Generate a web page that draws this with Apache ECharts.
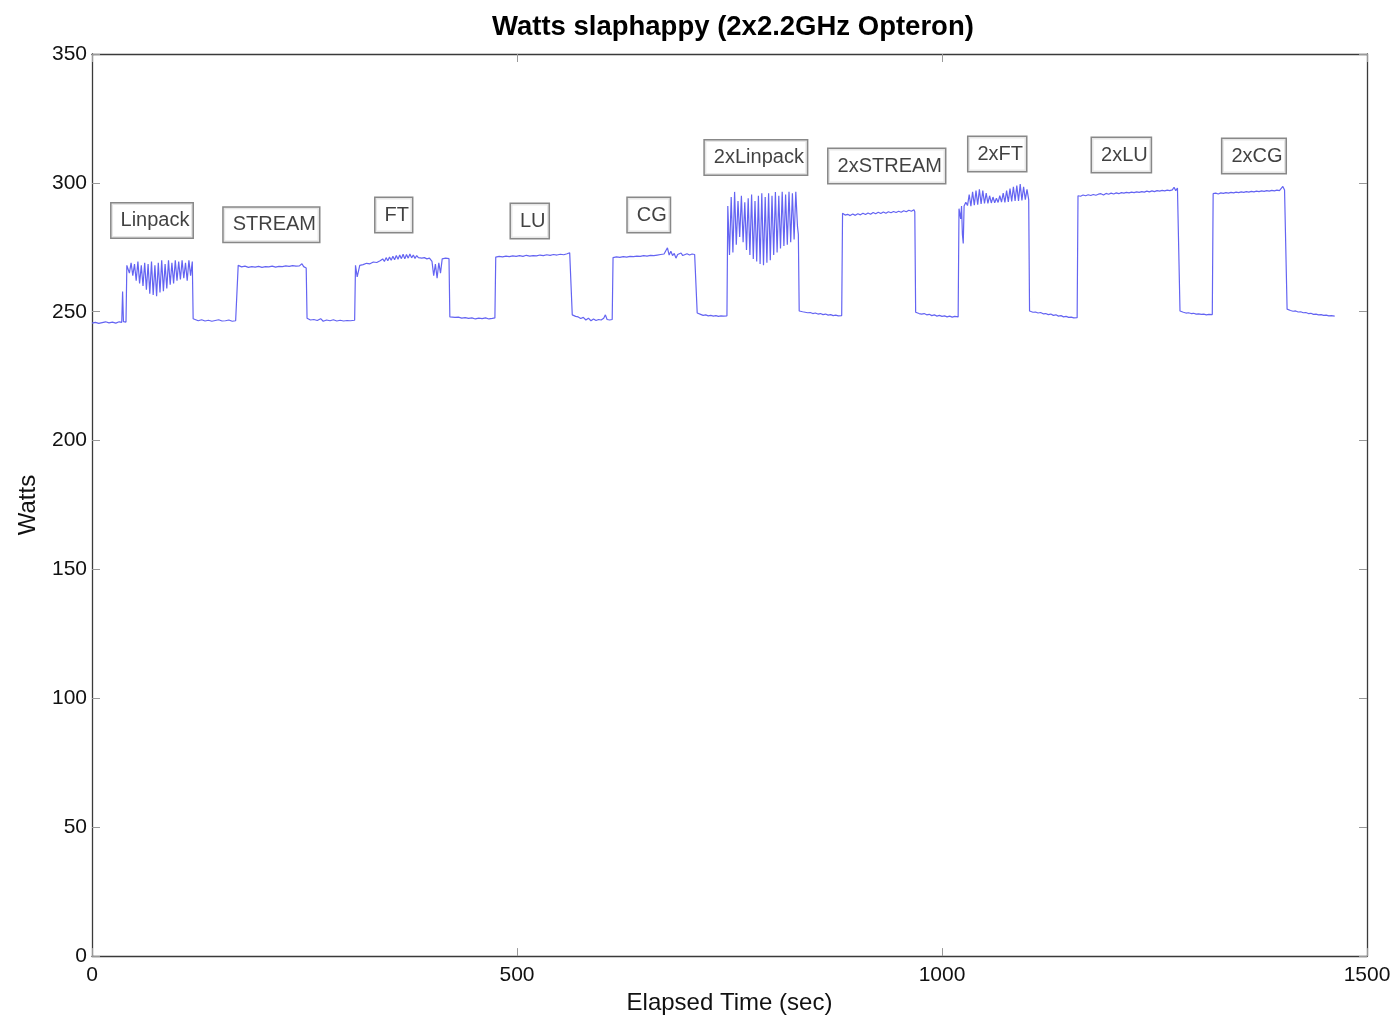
<!DOCTYPE html>
<html>
<head>
<meta charset="utf-8">
<script src="https://cdn.jsdelivr.net/npm/echarts@6/dist/echarts.min.js"></script>
<style>
html,body{margin:0;padding:0;background:#fff;}
#chart{width:1395px;height:1020px;}
</style>
</head>
<body>
<div id="chart"></div>
<script>
// ---- Data: [elapsed time (sec), watts] per phase ----
const idle0 = [[0,245.6],[4,245.9],[8,245.5],[12,245.8],[16,246.1],[20,245.7],[24,246],[28,245.6],[32,246.1],[35,245.9],[36,257.8],[37,246.2],[40,246]];
const linpack = [[41,268],[42,268],[44,265],[46,269],[48,264],[50,268.5],[52,262],[54,269.5],[56,261],[58,268],[60,260],[62,269],[64,258.5],[66,268.5],[68,257],[70,269.5],[72,256.5],[74,268],[76,256],[78,269],[80,257.5],[82,270],[84,258],[86,268.5],[88,259],[90,270],[92,260.5],[94,269],[96,261],[98,270],[100,262],[102,269.5],[104,262.5],[106,270],[108,263],[110,269],[112,262],[114,270],[116,264],[118,269.5]];
const idle1 = [[119,247.3],[121,246.8],[125,246.5],[129,246.9],[133,246.4],[137,246.7],[141,246.3],[145,246.6],[149,246.9],[153,246.4],[157,246.5],[161,246.8],[165,246.3],[169,246.5],[171,246.4]];
const stream = [[172,268],[176,267.4],[180,267.7],[184,267.2],[188,267.5],[192,267.3],[196,267.6],[200,267.2],[204,267.5],[208,267.4],[212,267.7],[216,267.3],[220,267.6],[224,267.5],[228,267.8],[232,267.6],[236,267.9],[240,267.7],[244,267.8],[247,268.6],[249,267.5],[251,268.2],[252,267]];
const idle2 = [[253,247.5],[257,246.8],[261,247],[265,246.6],[269,247.3],[272,246.3],[276,246.8],[280,246.5],[284,246.9],[288,246.4],[292,246.7],[296,246.4],[300,246.6],[304,246.5],[309,246.7]];
const ft = [[310,268],[312,263.5],[315,268],[319,268.3],[323,268.8],[327,268.6],[331,269.3],[335,269.1],[339,269.8],[342,270.5],[344,269.5],[346,271],[348,269.8],[350,271.2],[352,270],[354,271.5],[356,270.2],[358,271.8],[360,270.4],[362,272],[364,270.6],[366,272.3],[368,270.5],[370,272.2],[372,270.8],[374,272.4],[376,270.9],[378,272],[380,270.7],[382,271.8],[384,271],[386,271.5],[388,270.8],[391,271],[394,270.5],[397,270.8],[400,269.5],[402,264],[404,268.5],[406,263],[408,269],[410,265],[412,270.5],[414,269.8],[416,270.8],[418,270.2],[420,270.6]];
const idle3 = [[421,248],[423,248],[427,247.8],[431,247.9],[435,247.5],[439,247.7],[443,247.4],[447,247.6],[451,247.2],[455,247.5],[459,247.3],[463,247.6],[467,247.2],[471,247.4],[474,247.6]];
const lu = [[475,271.2],[479,271.5],[483,271.3],[487,271.6],[491,271.4],[495,271.7],[499,271.5],[503,271.8],[507,271.5],[511,271.9],[515,271.6],[519,271.8],[523,271.7],[527,272],[531,271.8],[535,272.1],[539,271.9],[543,272.2],[547,272],[551,272.3],[555,272.1],[559,272.5],[562,272.9],[564,272.2]];
const idle4 = [[565,248.8],[569,248.2],[572,248],[575,247.4],[578,247.8],[581,246.8],[584,247.5],[587,246.5],[590,247.2],[593,246.6],[596,247],[599,246.8],[602,247.5],[604,248.8],[606,247],[609,246.8],[612,247]];
const cg = [[613,271],[617,271.3],[621,271.1],[625,271.4],[629,271.2],[633,271.5],[637,271.4],[641,271.6],[645,271.5],[649,271.8],[653,271.6],[657,271.9],[661,271.8],[665,272],[669,272.2],[673,272.4],[675,273],[677,274.8],[679,272],[681,273.5],[683,271.8],[685,272.6],[687,270.8],[689,272.2],[691,271.5],[693,272.8],[695,271.8],[697,272.3],[700,272.5],[703,272],[706,272.4],[709,272.2],[711,272.1]];
const idle5 = [[712,249.5],[716,249],[719,248.6],[722,248.8],[725,248.4],[728,248.6],[731,248.3],[734,248.5],[737,248.2],[740,248.4],[743,248.3],[747,248.4]];
const linpack2 = [[748,291],[750,272],[752,294.5],[754,273],[756,296.5],[758,276],[760,293],[762,279],[764,295],[766,277],[768,292.5],[770,274],[772,294],[774,272],[776,295.5],[778,270.5],[780,293],[782,269.5],[784,295],[786,268.5],[788,296],[790,268],[792,294.5],[794,269],[796,296],[798,270],[800,295],[802,272],[804,296.5],[806,273],[808,295],[810,274.5],[812,296.5],[814,275.5],[816,295.5],[818,276],[820,296.5],[822,277],[824,296],[826,278],[828,296.5],[830,283],[831,280]];
const idle6 = [[832,250.3],[836,250],[839,249.8],[842,249.6],[845,249.7],[848,249.3],[851,249.5],[854,249.1],[857,249.3],[860,248.9],[863,249.1],[866,248.7],[869,248.9],[872,248.5],[875,248.7],[878,248.4],[882,248.5]];
const stream2 = [[883,288.2],[886,287.5],[889,287.8],[892,287.3],[895,287.9],[898,287.4],[901,288],[904,287.6],[907,288.2],[910,287.7],[913,288.3],[916,287.8],[919,288.5],[922,288],[925,288.6],[928,288.1],[931,288.7],[934,288.2],[937,288.8],[940,288.4],[943,288.9],[946,288.5],[949,289],[952,288.6],[955,289.2],[958,288.8],[961,289.4],[964,289],[967,289.6],[968,288.8]];
const idle7 = [[969,249.8],[973,249.3],[976,249.1],[979,249.3],[982,248.8],[985,249],[988,248.5],[991,248.8],[994,248.3],[997,248.6],[1000,248.2],[1003,248.4],[1006,248],[1009,248.3],[1012,247.9],[1015,248.2],[1019,248]];
const ft2 = [[1020,290],[1022,286],[1023,291],[1024,280],[1025,276.5],[1026,291],[1028,292.5],[1030,291.2],[1032,295.5],[1034,291],[1036,296.5],[1038,291.3],[1040,297],[1042,291.5],[1044,297.5],[1046,291.8],[1048,297],[1050,292],[1052,296],[1054,292],[1056,295],[1058,292.2],[1060,294.5],[1062,292.3],[1064,294],[1066,292.4],[1068,295],[1070,292.5],[1072,296],[1074,292.4],[1076,297],[1078,292.6],[1080,297.8],[1082,292.8],[1084,298.5],[1086,293],[1088,299],[1090,293],[1092,299.5],[1094,293.2],[1096,298.5],[1098,293.5],[1100,297.5],[1102,293.5]];
const idle8 = [[1103,250.3],[1107,249.8],[1110,249.9],[1113,249.5],[1116,249.7],[1119,249.2],[1122,249.3],[1125,248.9],[1128,249.1],[1131,248.6],[1134,248.8],[1137,248.3],[1140,248.5],[1143,248],[1146,248.2],[1149,247.8],[1152,247.9],[1155,247.6],[1159,247.7]];
const lu2 = [[1160,295],[1163,294.8],[1166,295.3],[1169,295],[1172,295.4],[1175,295.1],[1178,295.5],[1181,295.2],[1184,295.6],[1187,295.8],[1190,295.3],[1193,295.9],[1196,295.6],[1199,296],[1202,295.7],[1205,296.1],[1208,295.8],[1211,296.2],[1214,296],[1217,296.3],[1220,296.1],[1223,296.4],[1226,296.2],[1229,296.5],[1232,296.3],[1235,296.6],[1238,296.4],[1241,296.8],[1244,296.5],[1247,296.9],[1250,296.6],[1253,297],[1256,296.8],[1259,297.1],[1262,296.9],[1265,297.2],[1268,297],[1271,297.3],[1273,298.3],[1275,297],[1277,298],[1279,297.3]];
const idle9 = [[1280,250.3],[1284,249.8],[1287,249.5],[1290,249.6],[1293,249.3],[1296,249.4],[1299,249.1],[1302,249.2],[1305,249],[1308,249.1],[1311,248.8],[1314,249],[1318,248.9]];
const cg2 = [[1319,295.8],[1322,296],[1325,295.7],[1328,296.1],[1331,295.9],[1334,296.2],[1337,296],[1340,296.3],[1343,296.1],[1346,296.4],[1349,296.2],[1352,296.5],[1355,296.3],[1358,296.6],[1361,296.4],[1364,296.7],[1367,296.5],[1370,296.8],[1373,296.6],[1376,296.9],[1379,296.7],[1382,297],[1385,296.8],[1388,297.1],[1391,296.9],[1394,297.2],[1397,297],[1399,297.5],[1401,298.6],[1403,297.2],[1405,297.4]];
const idle10 = [[1406,251],[1410,250.5],[1413,250.2],[1416,250.3],[1419,249.9],[1422,250],[1425,249.6],[1428,249.7],[1431,249.3],[1434,249.4],[1437,249],[1440,249.1],[1443,248.8],[1446,248.9],[1449,248.6],[1452,248.7],[1455,248.4],[1458,248.5],[1462,248.3]];

// Benchmark annotations (text, anchor in data coordinates)
const benchNames = ['Linpack','STREAM','FT','LU','CG','2xLinpack','2xSTREAM','2xFT','2xLU','2xCG'];
const benchLabelX = [70.6, 211, 355, 515, 655, 781, 935, 1065, 1211, 1367];
const benchLabelY = [285.4, 283.8, 287.5, 285.2, 287.5, 309.8, 306.5, 311.2, 310.8, 310.4];

// Axis ticks
const xTicks = [0, 500, 1000, 1500];
const yTicks = [0, 50, 100, 150, 200, 250, 300, 350];

const series = [].concat(idle0, linpack, idle1, stream, idle2, ft, idle3, lu, idle4, cg, idle5,
  linpack2, idle6, stream2, idle7, ft2, idle8, lu2, idle9, cg2, idle10);

const FONT = '"Liberation Sans", Arial, Helvetica, sans-serif';
const chart = echarts.init(document.getElementById('chart'), null, {renderer: 'canvas'});

const axisLine = {show: true, onZero: false, lineStyle: {color: '#3a3a3a', width: 1.3}};
const tickIn = {show: true, inside: true, length: 8, lineStyle: {color: '#999', width: 1}};
const plain = v => String(v);

chart.setOption({
  backgroundColor: '#ffffff',
  animation: false,
  title: {
    text: 'Watts slaphappy (2x2.2GHz Opteron)',
    left: 487, top: 8,
    textStyle: {fontFamily: FONT, fontSize: 27.5, fontWeight: 'bold', color: '#000'}
  },
  grid: {left: 92, right: 28, top: 54, bottom: 58, containLabel: false},
  xAxis: [{
    type: 'value', min: xTicks[0], max: xTicks[xTicks.length - 1], interval: 500,
    position: 'bottom',
    name: 'Elapsed Time (sec)', nameLocation: 'middle', nameGap: 33,
    nameTextStyle: {fontFamily: FONT, fontSize: 24, color: '#111'},
    axisLine: axisLine, axisTick: tickIn,
    axisLabel: {fontFamily: FONT, fontSize: 21, color: '#111', margin: 9, formatter: plain},
    splitLine: {show: false}
  }, {
    type: 'value', min: xTicks[0], max: xTicks[xTicks.length - 1], interval: 500,
    position: 'top',
    axisLine: axisLine, axisTick: tickIn, axisLabel: {show: false}, splitLine: {show: false}
  }],
  yAxis: [{
    type: 'value', min: yTicks[0], max: yTicks[yTicks.length - 1], interval: 50,
    position: 'left',
    name: 'Watts', nameLocation: 'middle', nameGap: 52, nameRotate: 90,
    nameTextStyle: {fontFamily: FONT, fontSize: 24, color: '#111'},
    axisLine: axisLine, axisTick: tickIn,
    axisLabel: {fontFamily: FONT, fontSize: 21, color: '#111', margin: 5, formatter: plain},
    splitLine: {show: false}
  }, {
    type: 'value', min: yTicks[0], max: yTicks[yTicks.length - 1], interval: 50,
    position: 'right',
    axisLine: axisLine, axisTick: tickIn, axisLabel: {show: false}, splitLine: {show: false}
  }],
  series: [{
    type: 'line', name: 'Watts', data: series,
    xAxisIndex: 0, yAxisIndex: 0,
    showSymbol: false, symbol: 'none',
    lineStyle: {color: '#6464f2', width: 1.2},
    z: 2
  }, {
    type: 'scatter', name: 'labels',
    xAxisIndex: 0, yAxisIndex: 0,
    symbolSize: 0,
    data: benchNames.map((n, i) => ({name: n, value: [benchLabelX[i], benchLabelY[i]]})),
    label: {
      show: true, position: 'inside', formatter: p => p.name,
      fontFamily: FONT, fontSize: 20, color: '#111',
      backgroundColor: '#fff', borderColor: '#6a6a6a', borderWidth: 1.5,
      padding: [7, 3, 7, 9]
    },
    z: 5, silent: true
  }]
});
</script>
</body>
</html>
